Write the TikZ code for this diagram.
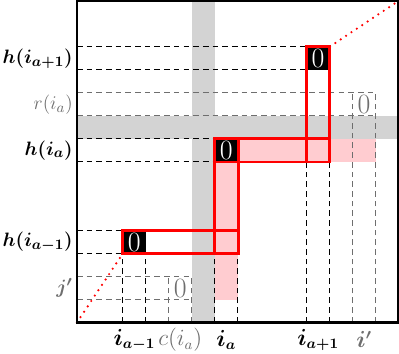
\documentclass[tikz,border=0pt]{standalone}
\usepackage{amsmath}
\usetikzlibrary{positioning}
\definecolor{bandGray}{HTML}{D3D3D3}
\definecolor{trailPink}{HTML}{FFCCD0}
\definecolor{pathRed}{HTML}{FF0000}
\definecolor{labelGray}{HTML}{6E6E6E}
\tikzset{
  frame/.style={draw=black, line width=1.5pt},
  band/.style={fill=bandGray, draw=none},
  trail/.style={fill=trailPink, draw=none},
  guide/.style={draw=black, line width=0.6pt, dash pattern=on 3.5pt off 2.5pt},
  faintguide/.style={guide, draw=labelGray},
  zerocell/.style={
    fill=black, text=white, minimum size=0.5cm, inner sep=0pt,
    font=\LARGE,
  },
  ghostcell/.style={
    text=labelGray, minimum size=0.5cm, inner sep=0pt,
    font=\LARGE,
  },
  redbox/.style={draw=pathRed, line width=1.8pt},
  reddots/.style={draw=pathRed, line width=1.5pt, dash pattern=on 0pt off 4pt, line cap=round},
  rowlabel/.style={anchor=east, inner sep=1pt, font=\fontsize{13}{15}\selectfont},
  collabel/.style={inner sep=0pt, font=\fontsize{13.5}{16}\selectfont},
}

\begin{document}
\begin{tikzpicture}[x=0.5cm, y=0.5cm]
  \useasboundingbox (-3.35,-1.35) rectangle (14.02,14.04);

  % === Gray bands: row and column of i_a ===
  \fill[band] (5,0) rectangle (6,14);
  \fill[band] (0,8) rectangle (14,9);

  % === Pink trail of h(i_a) ===
  \fill[trail] (6,1) rectangle (7,8);
  \fill[trail] (7,7) rectangle (13,8);

  % === Guide lines: rows ===
  \foreach \y/\xend in {12/10, 11/10, 8/6, 7/6, 4/2, 3/2}
    \draw[guide] (0,\y) -- (\xend,\y);
  \foreach \y/\xend in {10/13, 9/13, 2/5, 1/5}
    \draw[faintguide] (0,\y) -- (\xend,\y);

  % === Guide lines: columns ===
  \foreach \x/\yend in {2/3, 3/3, 6/3, 7/3, 10/7, 11/7}
    \draw[guide] (\x,0) -- (\x,\yend);
  \foreach \x/\yend in {4/2, 5/2, 12/10, 13/10}
    \draw[faintguide] (\x,0) -- (\x,\yend);

  % === Zero cells ===
  \node[zerocell] (zlow) at (2.5,3.5) {0};
  \node[zerocell] (zmid) at (6.5,7.5) {0};
  \node[zerocell] (zhigh) at (10.5,11.5) {0};
  \node[ghostcell] (gcol) at (4.5,1.5) {0};
  \node[ghostcell] (grow) at (12.5,9.5) {0};

  % === Red path ===
  \draw[redbox] (zlow.south west) rectangle (zmid.east |- zlow.north);
  \draw[redbox] (zmid.south west |- zlow.south) rectangle (zmid.north east);
  \draw[redbox] (zmid.south west) rectangle (zhigh.east |- zmid.north);
  \draw[redbox] (zhigh.west |- zmid.south) rectangle (zhigh.north east);

  % === Frame and diagonal ===
  \coordinate (origin) at (0,0);
  \coordinate (corner) at (14,14);
  \draw[reddots] (origin) -- (zlow.south west);
  \draw[reddots] (zhigh.north east) -- (corner);
  \draw[frame] (origin) rectangle (corner);

  % === Row labels ===
  \node[rowlabel] (hnext) at (-0.1,11.5) {$\boldsymbol{h(i_{a+1})}$};
  \node[rowlabel, text=labelGray] (rcur) at (-0.1,9.5) {$r(i_a)$};
  \node[rowlabel] (hcur) at (-0.1,7.5) {$\boldsymbol{h(i_a)}$};
  \node[rowlabel] (hprev) at (-0.1,3.5) {$\boldsymbol{h(i_{a-1})}$};
  \node[rowlabel, text=labelGray] (jp) at (-0.1,1.5) {$\boldsymbol{j'}$};

  % === Column labels ===
  \node[collabel] (iprev) at (2.5,-0.75) {$\boldsymbol{i_{a-1}}$};
  \node[collabel, text=labelGray] (ccur) at (4.5,-0.75) {$c(i_a)$};
  \node[collabel] (icur) at (6.5,-0.75) {$\boldsymbol{i_a}$};
  \node[collabel] (inext) at (10.5,-0.75) {$\boldsymbol{i_{a+1}}$};
  \node[collabel, text=labelGray] (ip) at (12.5,-0.75) {$\boldsymbol{i'}$};

\end{tikzpicture}
\end{document}
